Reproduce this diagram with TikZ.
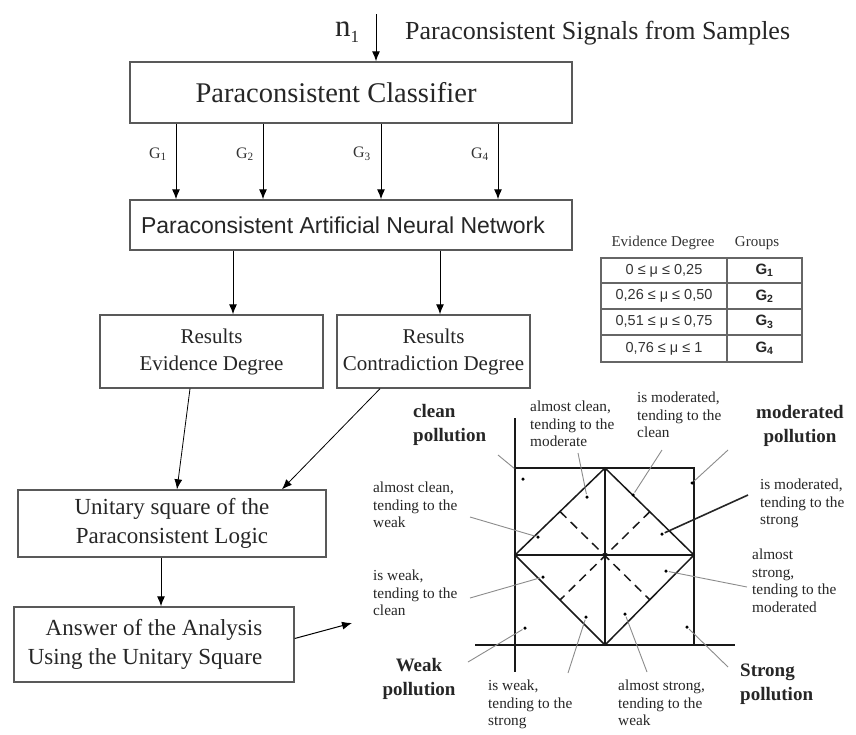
\documentclass[tikz,border=0pt]{standalone}
\usepackage{fontspec}
\setmainfont{Liberation Serif}
\newfontfamily\arialf{Liberation Sans}
\usetikzlibrary{arrows.meta}
\begin{document}
\begin{tikzpicture}[x=1pt,y=-1pt,
 box/.style={draw=black!65,line width=1.4pt,rectangle,inner sep=0pt,align=center,text=black!85},
 arr/.style={-{Latex[length=10pt,width=8pt]},line width=1pt},
 lead/.style={draw=black!45,line width=0.9pt,shorten >=1pt},
 small/.style={font=\fontsize{15.3}{17.5}\selectfont,align=left,inner sep=0pt,anchor=north west,text=black!85},
 bigl/.style={font=\bfseries\fontsize{19}{24}\selectfont,inner sep=0pt,text=black!85},
 dot/.style={circle,fill=black,inner sep=0pt,minimum size=3.5pt},
 glab/.style={font=\fontsize{16}{16}\selectfont,text=black!80},
 cell/.style={font=\arialf\fontsize{14.5}{15}\selectfont,text=black!80},
 gcell/.style={font=\arialf\bfseries\fontsize{15}{15}\selectfont,text=black!85},
 diag/.style={line width=1.5pt,black!90},
 axis/.style={line width=2pt,black!90}
]
\useasboundingbox[fill=white] (0,0) rectangle (856,734);

% top input
\node[font=\fontsize{31}{31}\selectfont,text=black!85,inner sep=0pt] (n1) at (347,32) {n\raisebox{-6pt}{\fontsize{17}{17}\selectfont 1}};
\coordinate (inp) at (376,14);
\node[font=\fontsize{26}{26}\selectfont,anchor=west,inner sep=0pt,text=black!85] (sig) at (405,33) {Paraconsistent Signals from Samples};

% boxes
\node[box,minimum width=442pt,minimum height=61pt,font=\fontsize{28.5}{32}\selectfont] (cls) at (351,92.5) {Paraconsistent Classifier\hspace*{30pt}};
\node[box,minimum width=442pt,minimum height=50pt,font=\arialf\fontsize{23}{26}\selectfont] (ann) at (351,225) {Paraconsistent Artificial Neural Network\hspace*{16pt}};
\node[box,minimum width=223pt,minimum height=73pt,font=\fontsize{21}{27}\selectfont] (red) at (211.5,351.5) {Results\\Evidence Degree};
\node[box,minimum width=193pt,minimum height=73pt,font=\fontsize{21}{27}\selectfont] (rcd) at (433.5,351.5) {Results\\Contradiction Degree};
\node[box,minimum width=308pt,minimum height=67pt,font=\fontsize{23}{29}\selectfont] (usq) at (172,523.5) {Unitary square of the\\Paraconsistent Logic};
\node[box,minimum width=280pt,minimum height=75pt,font=\fontsize{23}{29}\selectfont] (ans) at (154,644.5) {Answer of the Analysis\\Using the Unitary Square\hspace*{18pt}};

% arrows
\draw[arr] (inp) -- (cls.north -| inp);
\coordinate (g1) at (176,0);
\coordinate (g2) at (263,0);
\coordinate (g3) at (381,0);
\coordinate (g4) at (498,0);
\foreach \g in {g1,g2,g3,g4}{\draw[arr] (cls.south -| \g) -- (ann.north -| \g);}
\node[glab] (lg1) at (158,154) {G\textsubscript{1}};
\node[glab] (lg2) at (245,154) {G\textsubscript{2}};
\node[glab] (lg3) at (362,154) {G\textsubscript{3}};
\node[glab] (lg4) at (480,154) {G\textsubscript{4}};

\coordinate (a1) at (233,0);
\coordinate (a2) at (440,0);
\draw[arr] (ann.south -| a1) -- (red.north -| a1);
\draw[arr] (ann.south -| a2) -- (rcd.north -| a2);

\draw[arr,line width=0.8pt] ([xshift=-21.5pt]red.south) -- ([xshift=5pt]usq.north);
\draw[arr,line width=0.8pt] ([xshift=-53.5pt]rcd.south) -- ([xshift=110pt]usq.north);
\coordinate (c161) at (161,0);
\draw[arr] (usq.south -| c161) -- (ans.north -| c161);
\coordinate (toq) at (352,623);
\draw[arr] ([yshift=6pt]ans.east) -- (toq);

% table
\node[font=\fontsize{15}{15}\selectfont,text=black!80,inner sep=0pt] (th1) at (663,243) {Evidence Degree};
\node[font=\fontsize{15}{15}\selectfont,text=black!80,inner sep=0pt] (th2) at (757,243) {Groups};
\draw[black!60,line width=1.3pt] (601,258) rectangle (802,362);
\draw[black!60,line width=1.3pt] (727,258) -- (727,362);
\foreach \yy in {283,309,335}{\draw[black!60,line width=1.1pt] (601,\yy) -- (802,\yy);}
\node[cell] (t11) at (664,270.5) {0 ≤ μ ≤ 0,25};
\node[cell] (t21) at (664,296) {0,26 ≤ μ ≤ 0,50};
\node[cell] (t31) at (664,322) {0,51 ≤ μ ≤ 0,75};
\node[cell] (t41) at (664,348.5) {0,76 ≤ μ ≤ 1};
\node[gcell] (t12) at (764.5,270.5) {G\textsubscript{1}};
\node[gcell] (t22) at (764.5,296) {G\textsubscript{2}};
\node[gcell] (t32) at (764.5,322) {G\textsubscript{3}};
\node[gcell] (t42) at (764.5,348.5) {G\textsubscript{4}};

% unitary square diagram
\draw[axis] (515,418) -- (515,672);
\draw[axis] (475,645) -- (735,645);
\draw[diag] (515,468) -- (694,468) -- (694,645);
\draw[diag] (605,468) -- (605,645);
\draw[diag] (515,555) -- (694,555);
\draw[diag] (605,468) -- (694,555) -- (605,645) -- (515,555) -- cycle;
\draw[diag,dash pattern=on 9pt off 6pt] (560,511.5) -- (650,600);
\draw[diag,dash pattern=on 9pt off 6pt] (650,511.5) -- (560,600);

% dots
\node[dot] (d1) at (523,479) {};
\node[dot] (d2) at (587,497) {};
\node[dot] (d3) at (633,495) {};
\node[dot] (d4) at (692,483) {};
\node[dot] (d5) at (662,534) {};
\node[dot] (d6) at (538,537) {};
\node[dot] (d7) at (666,571) {};
\node[dot] (d8) at (543,577) {};
\node[dot] (d9) at (525,628) {};
\node[dot] (d10) at (586,617) {};
\node[dot] (d11) at (625,614) {};
\node[dot] (d12) at (687,627) {};

% leader starts
\coordinate (l1) at (498,455);
\coordinate (l2) at (578,453);
\coordinate (l3) at (662,450);
\coordinate (l4) at (728,450);
\coordinate (l5) at (748,495);
\coordinate (l6) at (470,517);
\coordinate (l7) at (747,587);
\coordinate (l8) at (470,598);
\coordinate (l9) at (468,662);
\coordinate (l10) at (568,673);
\coordinate (l11) at (647,672);
\coordinate (l12) at (728,667);
\draw[lead] (l1) -- (515,469);
\draw[lead] (l2) -- (d2);
\draw[lead] (l3) -- (d3);
\draw[lead] (l4) -- (d4);
\draw[lead,draw=black!85,line width=1.6pt] (l5) -- (d5);
\draw[lead] (l6) -- (d6);
\draw[lead] (l7) -- (d7);
\draw[lead] (l8) -- (d8);
\draw[lead] (l9) -- (d9);
\draw[lead] (l10) -- (d10);
\draw[lead] (l11) -- (d11);
\draw[lead] (l12) -- (d12);

% labels
\node[small] (s1) at (530,401) {almost clean,\\tending to the\\moderate};
\node[small] (s2) at (637,392) {is moderated,\\tending to the\\clean};
\node[small] (s3) at (760,479) {is moderated,\\tending to the\\strong};
\node[small] (s4) at (373,482) {almost clean,\\tending to the\\weak};
\node[small] (s5) at (752,549) {almost\\strong,\\tending to the\\moderated};
\node[small] (s6) at (373,570) {is weak,\\tending to the\\clean};
\node[small] (s7) at (488,680) {is weak,\\tending to the\\strong};
\node[small] (s8) at (618,680) {almost strong,\\tending to the\\weak};

\node[bigl,align=left,anchor=north west] (b1) at (413,404) {clean\\pollution};
\node[bigl,align=center] (b2) at (800,426) {moderated\\pollution};
\node[bigl,align=center] (b3) at (419,679) {Weak\\pollution};
\node[bigl,align=left,anchor=north west] (b4) at (740,664) {Strong\\pollution};
\end{tikzpicture}
\end{document}
